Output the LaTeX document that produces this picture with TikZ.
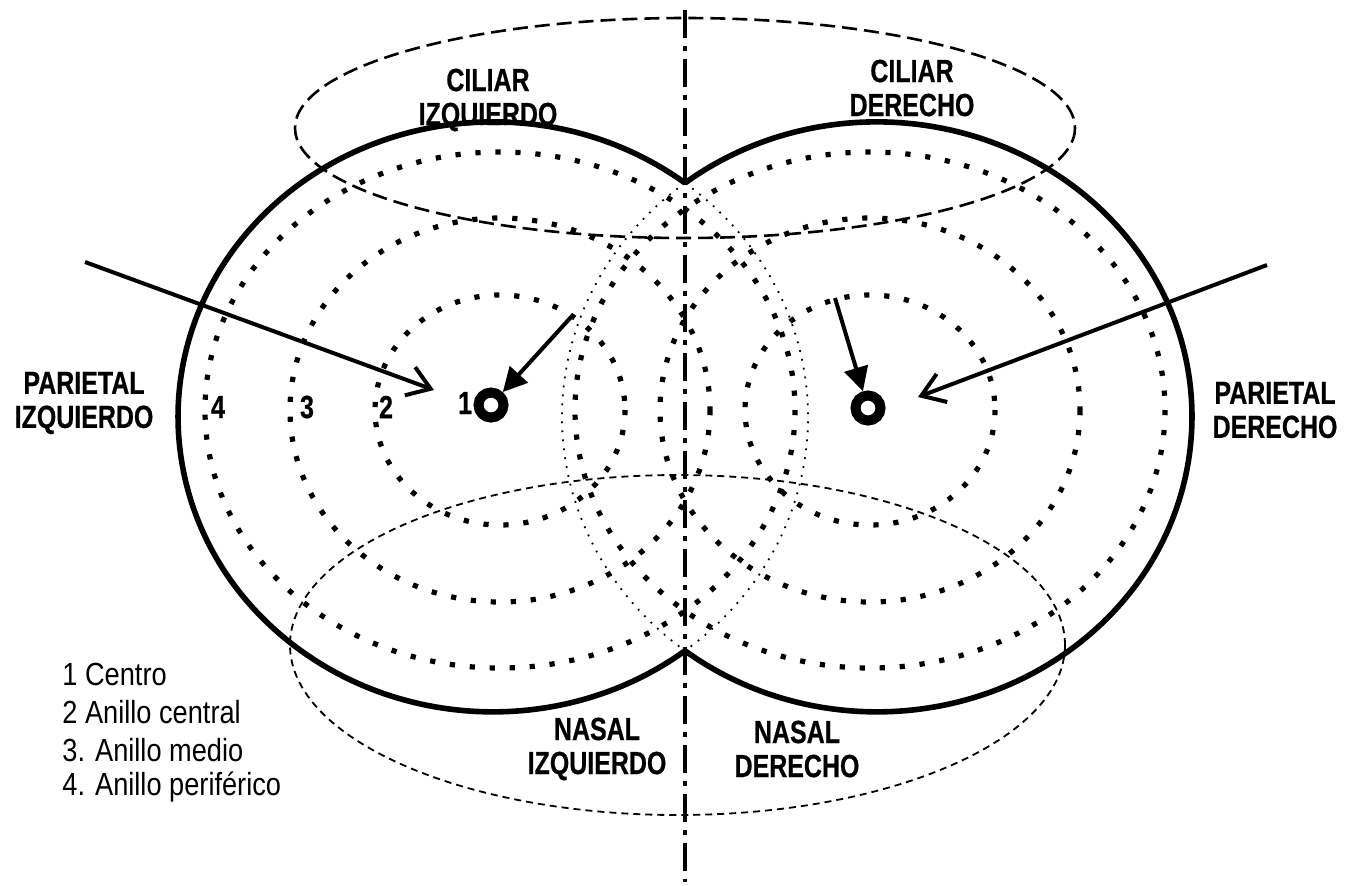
\documentclass[tikz,border=0pt]{standalone}
\usepackage{fontspec}
\setmainfont{Liberation Sans}
\newfontfamily\lblfont[FakeStretch=0.78,BoldFeatures={FakeBold=0.6}]{Liberation Sans}
\newfontfamily\legfont[FakeStretch=0.85]{Liberation Sans}
\usetikzlibrary{arrows.meta,calc,positioning}

\begin{document}
\begin{tikzpicture}[x=0.5pt,y=-0.5pt,
  lobe/.style={line width=2.8pt},
  hidden/.style={line width=0.9pt,dash pattern=on 0.9pt off 3.6pt},
  ring/.style={line width=2.6pt,dash pattern=on 2.6pt off 7.4pt},
  ciliar/.style={line width=1.3pt,dash pattern=on 7.5pt off 3.5pt},
  nasal/.style={line width=0.9pt,dash pattern=on 3.5pt off 2.5pt},
  axis/.style={line width=2pt,dash pattern=on 14pt off 4pt on 2.5pt off 4pt},
  longarr/.style={line width=2pt,-{Straight Barb[length=11pt,width=15pt,line width=2pt]}},
  shortarr/.style={line width=2pt,-{Triangle[length=12pt,width=12pt]}},
  marker/.style={draw,circle,line width=5pt,minimum size=12.5pt,inner sep=0pt},
  lbl/.style={font=\lblfont\bfseries\fontsize{16}{17}\selectfont,align=center,inner sep=0pt},
  legend/.style={font=\legfont\fontsize{16}{19}\selectfont,anchor=west,inner sep=0pt}]
  \useasboundingbox (0,0) rectangle (1353,885);

  % rings around each centre
  \foreach \cx in {500,870}
    \foreach \rx/\ry in {125/115,210/192,295/258}
      \draw[ring] (\cx,410) ellipse[x radius=\rx,y radius=\ry];

  % outline of both halves
  \coordinate (cusptop) at (685,183);
  \coordinate (cuspbot) at (685,651);
  \draw[lobe] (cusptop) arc[start angle=-52.45,end angle=-307.55,x radius=315,y radius=295];
  \draw[lobe] (cusptop) arc[start angle=-127.55,end angle=127.55,x radius=315,y radius=295];
  \draw[hidden] (cusptop) arc[start angle=-52.45,end angle=52.45,x radius=315,y radius=295];
  \draw[hidden] (cusptop) arc[start angle=-127.55,end angle=-232.45,x radius=315,y radius=295];

  \draw[ciliar] (685,128) ellipse[x radius=390,y radius=110];
  \draw[nasal] (677.5,645) ellipse[x radius=387.5,y radius=170];

  \coordinate (axtop) at (685,10);
  \coordinate (axbot) at (685,882);
  \draw[axis] (axtop) -- (axbot);

  % centres
  \node[marker] (cl) at (491,405) {};
  \node[marker] (cr) at (868,408) {};

  \node[lbl] (n1) at (465,403) {1};
  \node[lbl] (n2) at (386,407) {2};
  \node[lbl] (n3) at (307,407) {3};
  \node[lbl] (n4) at (218,407) {4};

  \coordinate (pl) at (85,262);
  \coordinate (plend) at (434,390);
  \coordinate (pr) at (1267,265);
  \coordinate (prend) at (918,397);
  \coordinate (sl) at (572,316);
  \coordinate (sr) at (835,298);
  \draw[longarr] (pl) -- (plend);
  \draw[longarr] (pr) -- (prend);
  \draw[shortarr] (sl) -- (cl);
  \draw[shortarr] (sr) -- (cr);

  \node[lbl] (cil-izq) at (488,100) {CILIAR\\IZQUIERDO};
  \node[lbl] (cil-der) at (912,88) {CILIAR\\DERECHO};
  \node[lbl] (par-izq) at (84,403) {PARIETAL\\IZQUIERDO};
  \node[lbl] (par-der) at (1275,410) {PARIETAL\\DERECHO};
  \node[lbl] (nas-izq) at (597,749) {NASAL\\IZQUIERDO};
  \node[lbl] (nas-der) at (797,749) {NASAL\\DERECHO};

  \node[legend] (l1) at (62,674) {1 Centro};
  \node[legend] (l2) at (62,712) {2 Anillo central};
  \node[legend] (l3) at (62,750) {3. Anillo medio};
  \node[legend] (l4) at (62,787) {4. Anillo periférico};
\end{tikzpicture}
\end{document}
